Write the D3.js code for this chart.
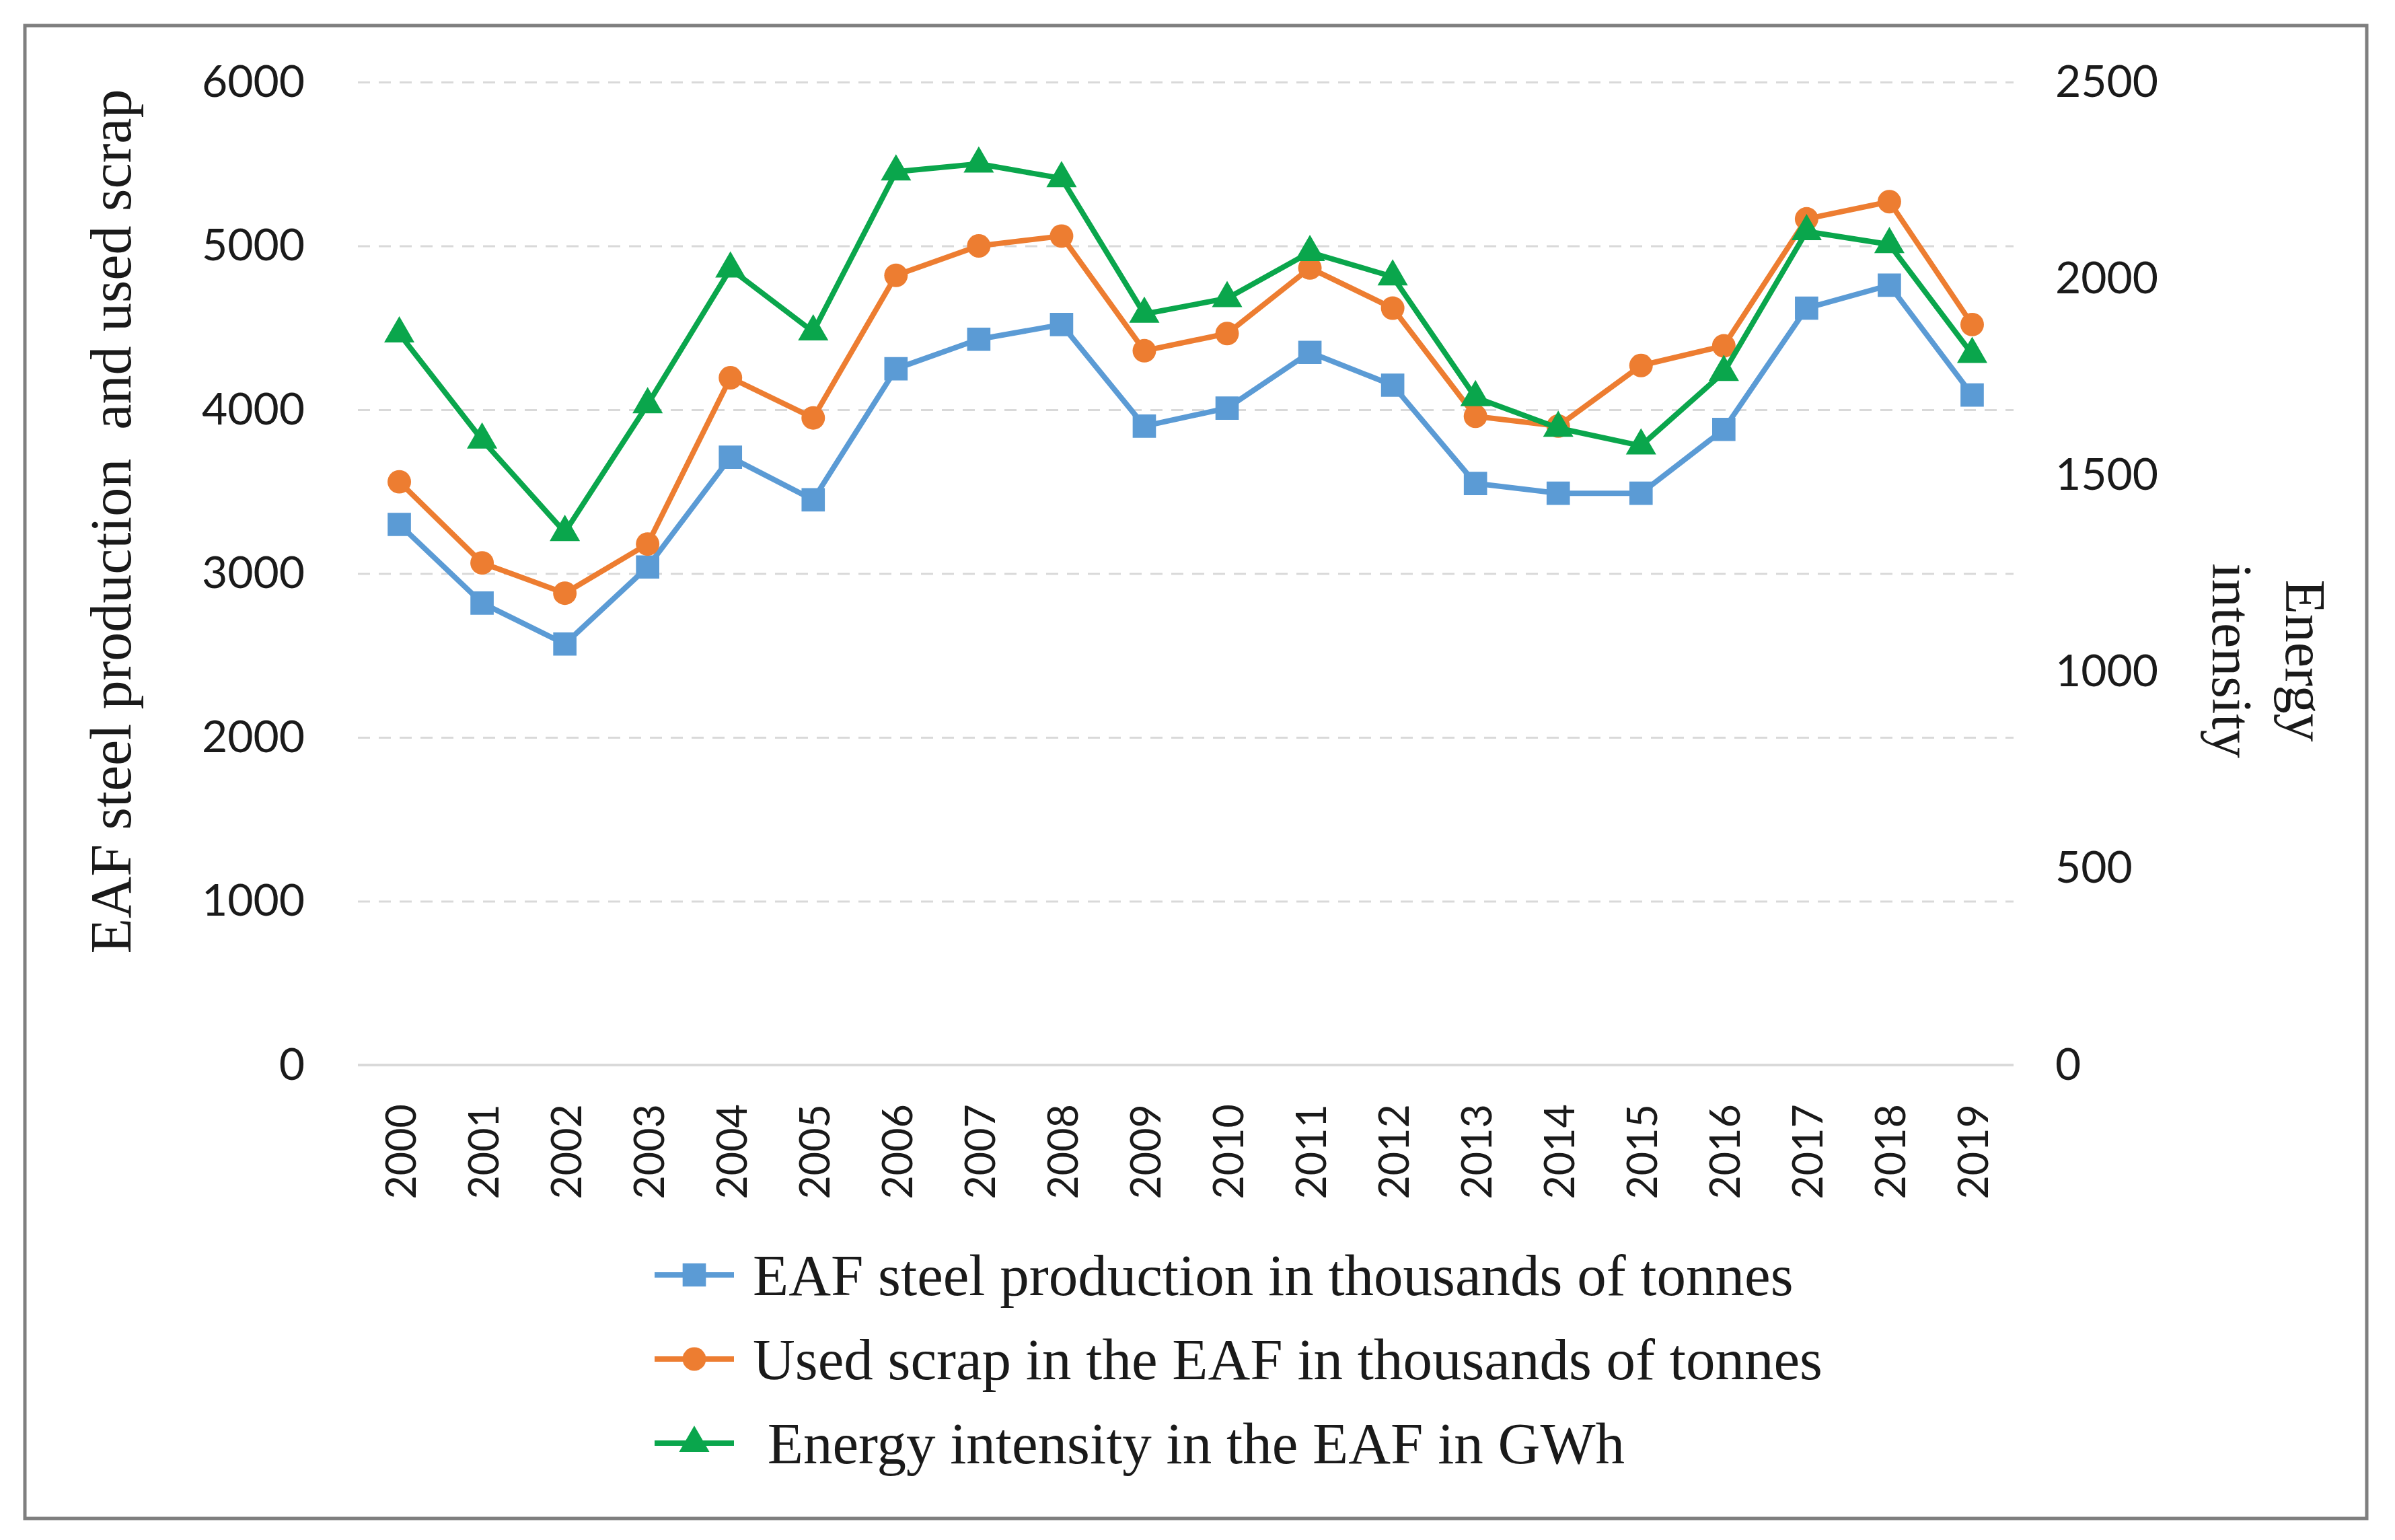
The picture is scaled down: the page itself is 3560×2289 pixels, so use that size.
<!DOCTYPE html>
<html>
<head>
<meta charset="utf-8">
<script src="https://cdn.jsdelivr.net/npm/d3@7"></script>
<style>
  body { margin:0; background:#fff; }
  .tick text { fill:#1a1a1a; }
</style>
</head>
<body>
<div id="chart"></div>
<script>
var years = ["2000","2001","2002","2003","2004","2005","2006","2007","2008","2009",
             "2010","2011","2012","2013","2014","2015","2016","2017","2018","2019"];

// thousands of tonnes (left axis)
var steel = [3300,2820,2570,3040,3710,3450,4250,4430,4520,3900,4010,4350,4150,3550,3490,3490,3880,4620,4760,4090];
var scrap = [3560,3065,2880,3180,4195,3950,4820,5000,5060,4360,4465,4865,4620,3960,3900,4270,4390,5165,5270,4520];
// GWh (right axis)
var energy = [1860,1590,1355,1680,2025,1865,2272,2292,2255,1910,1950,2067,2005,1698,1620,1575,1762,2120,2087,1808];

var left_ticks = [0,1000,2000,3000,4000,5000,6000];
var right_ticks = [0,500,1000,1500,2000,2500];

var series_names = ["EAF steel production in thousands of tonnes",
                    "Used scrap in the EAF in thousands of tonnes",
                    " Energy intensity in the EAF in GWh"];

var width = 3560;
var height = 2289;
var plot_left = 532, plot_right = 2993, plot_top = 122, plot_bottom = 1583;
var plot_w = plot_right - plot_left;

var svg = d3.select("#chart").append("svg")
            .attr("width",width)
            .attr("height",height)
            .style("background","#fff");

// outer frame
svg.append("rect")
   .attr("x",37).attr("y",38)
   .attr("width",3481).attr("height",2219)
   .attr("fill","none")
   .attr("stroke","#7f7f7f")
   .attr("stroke-width",5);

var x = d3.scalePoint().domain(years).range([plot_left,plot_right]).padding(0.5);
var y_left = d3.scaleLinear().domain([0,6000]).range([plot_bottom,plot_top]);
var y_right = d3.scaleLinear().domain([0,2500]).range([plot_bottom,plot_top]);

// dashed grid
var grid = svg.append("g")
              .attr("transform","translate(" + plot_left + ",0)")
              .call(d3.axisLeft(y_left).tickValues(left_ticks.slice(1)).tickSize(-plot_w).tickFormat(""));
grid.select(".domain").remove();
grid.selectAll("line")
    .attr("stroke","#d9d9d9")
    .attr("stroke-width",3)
    .attr("stroke-dasharray","18,13");

// zero baseline
svg.append("line")
   .attr("x1",plot_left).attr("x2",plot_right)
   .attr("y1",y_left(0)).attr("y2",y_left(0))
   .attr("stroke","#d9d9d9")
   .attr("stroke-width",4);

// left axis
var axis_l = svg.append("g")
                .attr("transform","translate(" + plot_left + ",0)")
                .call(d3.axisLeft(y_left).tickValues(left_ticks).tickFormat(d3.format("d")).tickSize(0).tickPadding(79));
axis_l.select(".domain").remove();
axis_l.selectAll("text")
      .style("font-family","Lato, 'Open Sans', sans-serif")
      .style("font-size","66px");

// right axis
var axis_r = svg.append("g")
                .attr("transform","translate(" + plot_right + ",0)")
                .call(d3.axisRight(y_right).tickValues(right_ticks).tickFormat(d3.format("d")).tickSize(0).tickPadding(62));
axis_r.select(".domain").remove();
axis_r.selectAll("text")
      .style("font-family","Lato, 'Open Sans', sans-serif")
      .style("font-size","66px");

// x axis, vertical year labels
var axis_x = svg.append("g")
                .attr("transform","translate(0," + plot_bottom + ")")
                .call(d3.axisBottom(x).tickSize(0).tickPadding(0));
axis_x.select(".domain").remove();
axis_x.selectAll("text")
      .attr("transform","rotate(-90)")
      .attr("x",-58)
      .attr("y",0)
      .attr("dy",null)
      .attr("dominant-baseline","central")
      .style("text-anchor","end")
      .style("font-family","Lato, 'Open Sans', sans-serif")
      .style("font-size","61px");

// axis titles
svg.append("text")
   .attr("transform","translate(165,775) rotate(-90)")
   .attr("text-anchor","middle")
   .attr("dominant-baseline","central")
   .style("white-space","pre")
   .style("font-family","'Liberation Serif', 'DejaVu Serif', serif")
   .style("font-size","86px")
   .attr("fill","#1a1a1a")
   .text("EAF steel production  and used scrap");

var right_title = svg.append("text")
                     .attr("transform","translate(3426,982) rotate(90)")
                     .attr("text-anchor","middle")
                     .style("font-family","'Liberation Serif', 'DejaVu Serif', serif")
                     .style("font-size","84px")
                     .attr("fill","#1a1a1a");
right_title.append("tspan").attr("x",0).attr("y",0).attr("dominant-baseline","central").text("Energy");
right_title.append("tspan").attr("x",0).attr("y",109).attr("dominant-baseline","central").text("intensity");

// series
var colors = ["#5b9bd5","#ed7d31","#0aa64c"];
var shapes = [d3.symbolSquare, d3.symbolCircle, d3.symbolTriangle];
var sizes = [1200, 960, 880];
var all_series = [
	{vals:steel, y:y_left},
	{vals:scrap, y:y_left},
	{vals:energy, y:y_right}
];

all_series.forEach(function(s,k){
	var line = d3.line()
	             .x(function(d,i){ return x(years[i]); })
	             .y(function(d){ return s.y(d); });

	svg.append("path")
	   .datum(s.vals)
	   .attr("d",line)
	   .attr("fill","none")
	   .attr("stroke",colors[k])
	   .attr("stroke-width",8)
	   .attr("stroke-linejoin","round");

	svg.append("g").selectAll("path")
	   .data(s.vals)
	   .enter()
	   .append("path")
	   .attr("transform",function(d,i){
	   		return "translate(" + x(years[i]) + "," + s.y(d) + ")";
	   })
	   .attr("d",d3.symbol().type(shapes[k]).size(sizes[k]))
	   .attr("fill",colors[k]);
});

// legend
var legend_y = [1895,2020,2145];
var legend = svg.append("g");
series_names.forEach(function(name,k){
	legend.append("line")
	      .attr("x1",973).attr("x2",1091)
	      .attr("y1",legend_y[k]).attr("y2",legend_y[k])
	      .attr("stroke",colors[k])
	      .attr("stroke-width",8);
	legend.append("path")
	      .attr("transform","translate(1032," + legend_y[k] + ")")
	      .attr("d",d3.symbol().type(shapes[k]).size(sizes[k]))
	      .attr("fill",colors[k]);
	legend.append("text")
	      .attr("x",1119)
	      .attr("y",legend_y[k])
	      .attr("dominant-baseline","central")
	      .style("white-space","pre")
	      .style("font-family","'Liberation Serif', 'DejaVu Serif', serif")
	      .style("font-size","87px")
	      .attr("fill","#1a1a1a")
	      .text(name);
});
</script>
</body>
</html>
